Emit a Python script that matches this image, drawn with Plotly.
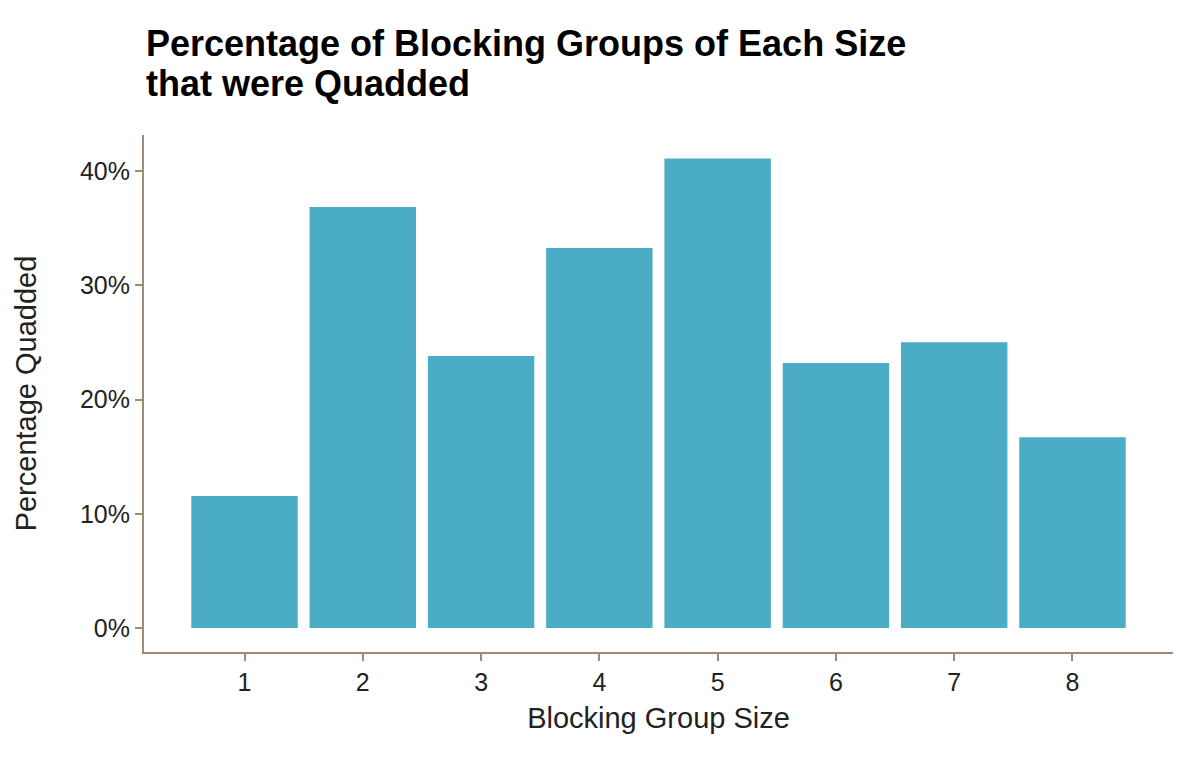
import plotly.graph_objects as go

sizes = [1, 2, 3, 4, 5, 6, 7, 8]
pct_quadded = [11.55, 36.85, 23.8, 33.25, 41.1, 23.2, 25.0, 16.7]
y_ticks = [0, 10, 20, 30, 40]
title_lines = ["Percentage of Blocking Groups of Each Size", "that were Quadded"]

axis_col = "#A08A76"
font_fam = "Liberation Sans, Arial, sans-serif"
W, H = 1184, 741  # page body has an 8px margin

fig = go.Figure(go.Bar(
    x=sizes, y=pct_quadded, width=0.9,
    marker=dict(color="#4BACC6", line=dict(width=0)),
))

annots = []
for i, line in enumerate(title_lines):
    annots.append(dict(
        text=f"<b>{line}</b>", showarrow=False,
        xref="paper", yref="paper", xanchor="left", yanchor="middle",
        x=(136 - 136) / (W - 136 - 19), y=1 + (127 - (36 + 40 * i)) / (H - 127 - 97),
        font=dict(size=36, color="black", family=font_fam),
    ))

fig.update_layout(
    width=W, height=H,
    paper_bgcolor="white", plot_bgcolor="white",
    margin=dict(l=136, r=19, t=127, b=97, autoexpand=False),
    font=dict(family=font_fam, color="#222222"),
    annotations=annots,
    showlegend=False,
)

fig.update_xaxes(
    range=[0.15, 8.85], tickvals=sizes, ticktext=[str(s) for s in sizes],
    showline=True, linecolor=axis_col, linewidth=2,
    ticks="outside", ticklen=7, tickwidth=2, tickcolor=axis_col,
    showgrid=False, zeroline=False, automargin=False,
    tickfont=dict(size=25, color="#222222"),
    title=dict(text="Blocking Group Size", font=dict(size=29, color="#222222"), standoff=13),
)
fig.update_yaxes(
    range=[-2.1, 43.15], tickvals=y_ticks, ticktext=[f"{v}%" for v in y_ticks],
    showline=True, linecolor=axis_col, linewidth=2,
    ticks="outside", ticklen=7, tickwidth=2, tickcolor=axis_col,
    showgrid=False, zeroline=False, automargin=False,
    tickfont=dict(size=25, color="#222222"),
    title=dict(text="Percentage Quadded", font=dict(size=29, color="#222222"), standoff=35),
)

fig.write_html("out.html")
